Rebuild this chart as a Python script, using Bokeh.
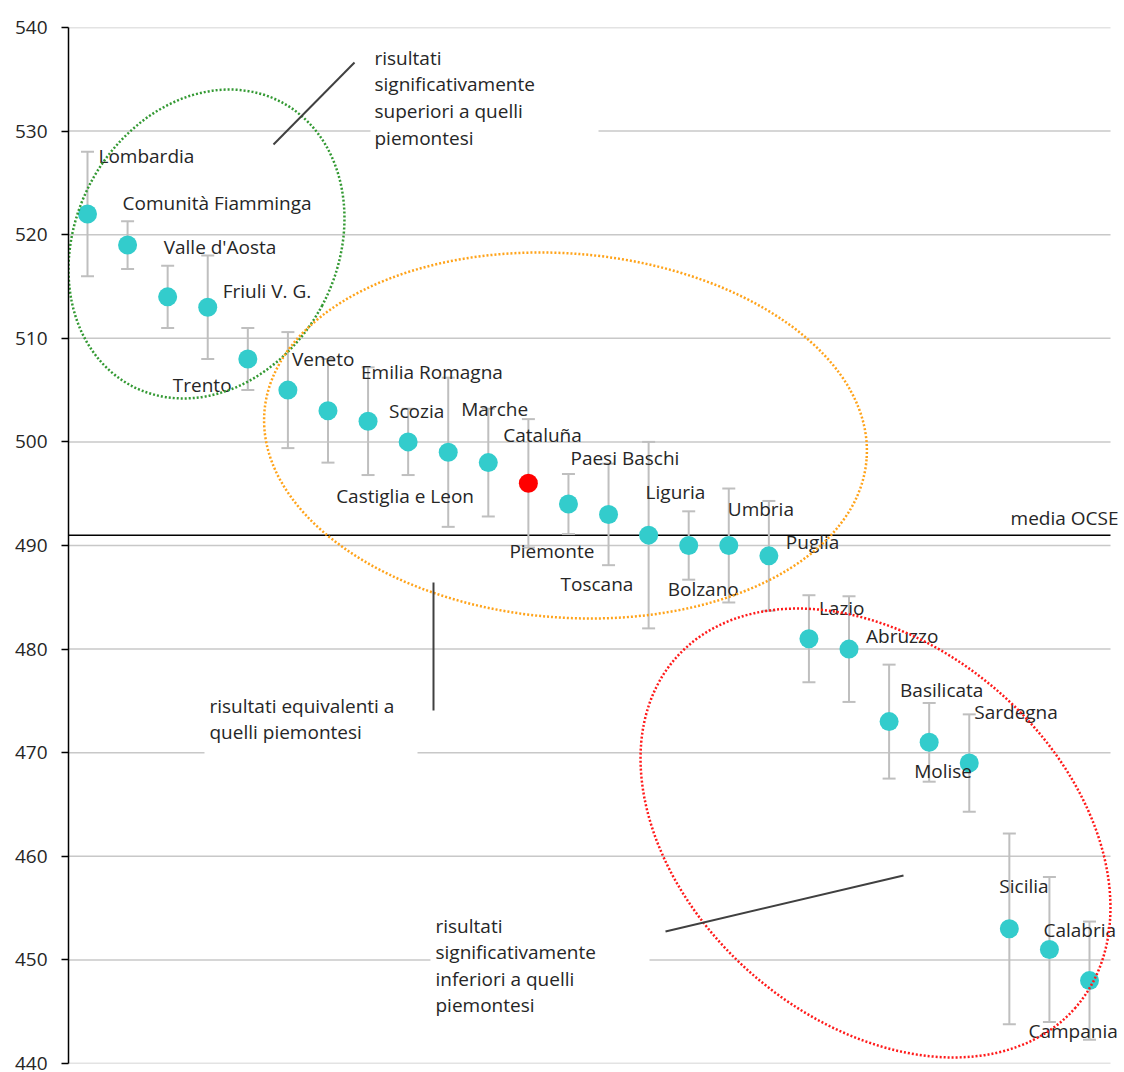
from bokeh.plotting import figure
from bokeh.models import ColumnDataSource, Whisker, TeeHead, Range1d, FixedTicker
from bokeh.embed import file_html
from bokeh.resources import INLINE
from bokeh.core.properties import value

# ---------------- data ----------------
regions = ["Lombardia", "Comunità Fiamminga", "Valle d'Aosta", "Friuli V. G.", "Trento",
           "Veneto", "Emilia Romagna", "Scozia", "Castiglia e Leon", "Marche", "Cataluña",
           "Piemonte", "Paesi Baschi", "Toscana", "Liguria", "Bolzano", "Umbria", "Puglia",
           "Lazio", "Abruzzo", "Basilicata", "Molise", "Sardegna", "Sicilia", "Calabria",
           "Campania"]
scores = [522, 519, 514, 513, 508, 505, 503, 502, 500, 499, 498, 496, 494, 493, 491, 490,
          490, 489, 481, 480, 473, 471, 469, 453, 451, 448]
lower = [516.0, 516.7, 511.0, 508.0, 505.0, 499.4, 498.0, 496.8, 496.8, 491.8, 492.8, 489.8,
         491.1, 488.1, 482.0, 486.7, 484.5, 483.7, 476.8, 474.9, 467.5, 467.2, 464.3, 443.8,
         444.0, 442.3]
upper = [528.0, 521.3, 517.0, 518.0, 511.0, 510.6, 508.0, 507.2, 503.2, 506.2, 503.2, 502.2,
         496.9, 497.9, 500.0, 493.3, 495.5, 494.3, 485.2, 485.1, 478.5, 474.8, 473.7, 462.2,
         458.0, 453.7]
media_ocse = 491
y_ticks = [440, 450, 460, 470, 480, 490, 500, 510, 520, 530, 540]
highlight = "Piemonte"

# ---------------- style ----------------
FONT = "Open Sans"
FS = "19px"
TXT = "#262626"
GRID = "#c8c8c8"
# label offsets (screen px) relative to each point
label_dx = [11, -5, -4, 15, -75, 4, 33, 21, -72, 13, 15, -19, 2, -48, -3, -21, -1, 17,
            10, 17, 11, -15, 5, -10, -6, -61]
label_dy = [-58, -42, -50, -16, 26, -31, -39, -10, 54, -43, -28, 68, -46, 70, -43, 43, -37,
            -14, -31, -13, -32, 29, -51, -43, -20, 50]

W, H = 1124, 1072
BL, BT = 68, 27
FRAME_W = W - BL
FRAME_H = 1036
BB = H - BT - FRAME_H
PX_PER_X = 40.08
X_START = 1 - (87 - BL) / PX_PER_X
X_END = X_START + FRAME_W / PX_PER_X


def px_x(px):  # page pixel -> data x
    return X_START + (px - BL) / PX_PER_X


def px_y(py):  # page pixel -> data y
    return 540 - (py - BT) * 100.0 / FRAME_H


p = figure(width=W, height=H, x_range=Range1d(X_START, X_END), y_range=Range1d(440, 540),
           output_backend="svg", toolbar_location=None, x_axis_location=None,
           min_border_left=BL, min_border_right=0, min_border_top=BT, min_border_bottom=BB)
p.outline_line_color = None
p.background_fill_color = "white"
p.border_fill_color = "white"
p.xgrid.visible = False
p.ygrid.visible = False

ax = p.yaxis[0]
ax.ticker = FixedTicker(ticks=y_ticks)
ax.axis_line_color = "black"
ax.axis_line_width = 1.5
ax.major_tick_line_color = "black"
ax.major_tick_line_width = 1.5
ax.major_tick_out = 7
ax.major_tick_in = 0
ax.minor_tick_line_color = None
ax.major_label_text_font = FONT
ax.major_label_text_font_size = FS
ax.major_label_text_color = TXT
ax.major_label_standoff = 14

# horizontal gridlines (ending a little before the right edge, as in the reference)
grid_end = px_x(1110)
g = p.segment(x0=[X_START] * len(y_ticks), x1=[grid_end] * len(y_ticks),
              y0=y_ticks, y1=y_ticks, line_color=GRID, line_width=1.5)
g.level = "underlay"

# white boxes behind annotation texts (interrupting gridlines)
boxes = [(370, 598, 38, 150), (204, 417, 688, 760), (430, 649, 908, 1020)]
wb = p.quad(left=[px_x(b[0]) for b in boxes], right=[px_x(b[1]) for b in boxes],
            top=[px_y(b[2]) for b in boxes], bottom=[px_y(b[3]) for b in boxes],
            fill_color="white", line_color=None)
wb.level = "underlay"

# OECD mean line
ml = p.segment(x0=[X_START], x1=[grid_end], y0=[media_ocse], y1=[media_ocse],
               line_color="black", line_width=1.5)
ml.level = "underlay"
p.text(x=[px_x(1118)], y=[media_ocse], text=["media OCSE"], y_offset=[-17],
       text_font=value(FONT), text_font_size=FS, text_color=TXT,
       text_align="right", text_baseline="middle")

xs = list(range(1, len(regions) + 1))
colors = ["#ff0000" if r == highlight else "#33cccc" for r in regions]
src = ColumnDataSource(dict(x=xs, y=scores, lower=lower, upper=upper, name=regions,
                            color=colors, dx=label_dx, dy=label_dy))

whisk = Whisker(source=src, base="x", upper="upper", lower="lower",
                line_color="#bfbfbf", line_width=2, level="underlay",
                upper_head=TeeHead(size=13, line_color="#bfbfbf", line_width=2),
                lower_head=TeeHead(size=13, line_color="#bfbfbf", line_width=2))
p.add_layout(whisk)

p.scatter(x="x", y="y", source=src, size=19, fill_color="color", line_color=None)

p.text(x="x", y="y", text="name", x_offset="dx", y_offset="dy", source=src,
       text_font=value(FONT), text_font_size=FS, text_color=TXT,
       text_align="left", text_baseline="middle")

# dotted ellipses grouping
ell_cx = [px_x(206), px_x(565), px_x(875)]
ell_cy = [px_y(243.5), px_y(435), px_y(832.5)]
p.ellipse(x=ell_cx, y=ell_cy, width=[262, 604, 531], height=[321, 364, 375],
          angle=[-0.487, -0.079, -0.717], width_units="screen", height_units="screen",
          fill_color=None, line_color=["#339933", "#ffa31a", "#ff1a1a"],
          line_width=2.5, line_dash="2 2")

# leader lines
segs = [(273, 144, 354, 62), (433, 582, 433, 710), (665, 931, 903, 875)]
p.segment(x0=[px_x(s[0]) for s in segs], y0=[px_y(s[1]) for s in segs],
          x1=[px_x(s[2]) for s in segs], y1=[px_y(s[3]) for s in segs],
          line_color="#404040", line_width=2)

# annotation texts
ann_lines = [
    (374, 57, "risultati"), (374, 83, "significativamente"),
    (374, 110, "superiori a quelli"), (374, 137, "piemontesi"),
    (209, 705, "risultati equivalenti a"), (209, 731, "quelli piemontesi"),
    (435, 925, "risultati"), (435, 951, "significativamente"),
    (435, 978, "inferiori a quelli"), (435, 1004, "piemontesi"),
]
p.text(x=[px_x(a[0]) for a in ann_lines], y=[px_y(a[1]) for a in ann_lines],
       text=[a[2] for a in ann_lines], text_font=value(FONT), text_font_size=FS,
       text_color=TXT, text_align="left", text_baseline="middle")

open("out.html", "w").write(file_html(p, INLINE))
